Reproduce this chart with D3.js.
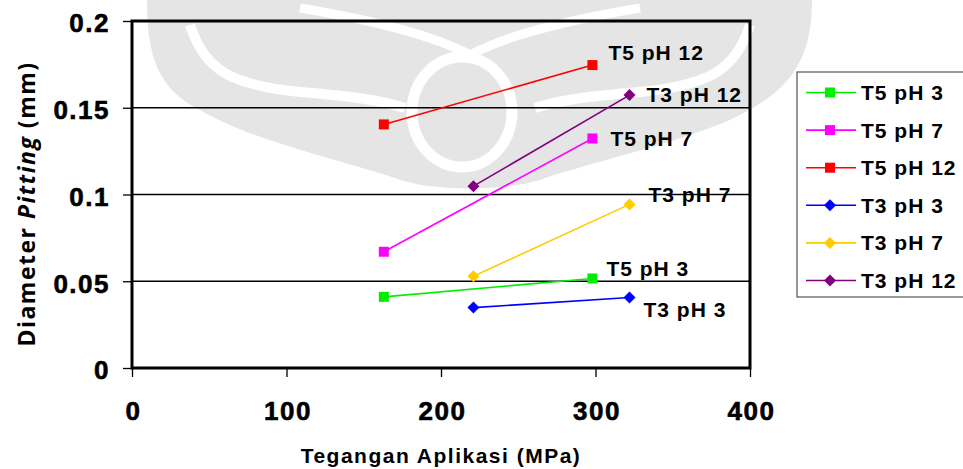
<!DOCTYPE html>
<html>
<head>
<meta charset="utf-8">
<script src="https://cdn.jsdelivr.net/npm/d3@7"></script>
<style>
body{margin:0;background:#fff;}
svg text{font-family:Arial,"Liberation Sans",sans-serif;font-weight:bold;fill:#000;}
</style>
</head>
<body>
<svg id="chart" width="963" height="469"></svg>
<script>
// data
let names = ['T5 pH 3', 'T5 pH 7', 'T5 pH 12', 'T3 pH 3', 'T3 pH 7', 'T3 pH 12'];
let colors = ['#00ee00', '#ff00ff', '#ff0000', '#0000ff', '#ffcc00', '#800080'];
let shapes = ['square', 'square', 'square', 'diamond', 'diamond', 'diamond'];
let xT5 = [163, 298];
let xT3 = [221, 322];
let t5ph3 = [0.041, 0.0516];
let t5ph7 = [0.067, 0.1323];
let t5ph12 = [0.1404, 0.1746];
let t3ph3 = [0.0348, 0.0406];
let t3ph7 = [0.0529, 0.0943];
let t3ph12 = [0.1048, 0.1573];
let yTicks = [0, 0.05, 0.1, 0.15, 0.2];
let xTicks = [0, 100, 200, 300, 400];
// label offset (px) from the last point of each line to the label's baseline start
let labelDx = [14, 18, 16, 14, 19, 17];
let labelDy = [-2, 8, -5, 19, -2, 7];

let series = [
    {x: xT5, y: t5ph3}, {x: xT5, y: t5ph7}, {x: xT5, y: t5ph12},
    {x: xT3, y: t3ph3}, {x: xT3, y: t3ph7}, {x: xT3, y: t3ph12}
];

let svg = d3.select('#chart');
let pLeft = 132, pRight = 750, pTop = 21, pBottom = 368;
let x = d3.scaleLinear().domain([0, 400]).range([pLeft, pRight]);
let y = d3.scaleLinear().domain([0, 0.2]).range([pBottom, pTop]);

// faint watermark behind the chart
let wm = svg.append('g');
wm.append('path')
    .attr('d', 'M147,0 L812,0 C812,60 790,90 740,115 C690,140 600,160 545,178 C510,192 430,192 395,178 C340,160 250,140 200,110 C160,90 147,60 147,0 Z')
    .attr('fill', '#e5e5e5');
let white = (d, w) => wm.append('path').attr('d', d).attr('fill', 'none').attr('stroke', '#fff').attr('stroke-width', w);
white('M190,25 C205,70 230,85 300,92 C350,96 380,100 405,108', 10);
white('M750,25 C735,70 710,85 640,92 C590,96 560,100 535,108', 10);
white('M300,8 Q420,28 470,55 Q520,28 640,8', 9);
wm.append('ellipse').attr('cx', 462).attr('cy', 112).attr('rx', 50).attr('ry', 55)
    .attr('fill', 'none').attr('stroke', '#fff').attr('stroke-width', 11);

// gridlines
svg.append('g').selectAll('line').data(yTicks.slice(1, -1)).join('line')
    .attr('x1', pLeft).attr('x2', pRight)
    .attr('y1', d => y(d)).attr('y2', d => y(d))
    .attr('stroke', '#000').attr('stroke-width', 1.3);

// axes
let yAxis = svg.append('g').attr('transform', `translate(${pLeft},0)`)
    .call(d3.axisLeft(y).tickValues(yTicks).tickSize(9).tickPadding(13).tickFormat(d => +d.toFixed(2) + ''));
let xAxis = svg.append('g').attr('transform', `translate(0,${pBottom})`)
    .call(d3.axisBottom(x).tickValues(xTicks).tickSize(9));
[yAxis, xAxis].forEach(a => {
    a.select('.domain').remove();
    a.selectAll('line').attr('stroke', '#000').attr('stroke-width', 1.3);
    a.selectAll('text').style('font-size', '26px').style('letter-spacing', '1.5px')
        .attr('fill', '#000').attr('stroke', '#000').attr('stroke-width', 0.6)
        .style('font-family', 'Arial, "Liberation Sans", sans-serif');
});
yAxis.selectAll('text').attr('dy', '0.42em');
xAxis.selectAll('text').attr('y', 52).attr('dy', 0).attr('dx', 1);

// frame
svg.append('rect').attr('x', pLeft).attr('y', pTop)
    .attr('width', pRight - pLeft).attr('height', pBottom - pTop)
    .attr('fill', 'none').attr('stroke', '#000').attr('stroke-width', 3);

function marker(g, shape, color, cx, cy) {
    if (shape == 'square') {
        g.append('rect').attr('x', cx - 5).attr('y', cy - 5).attr('width', 10).attr('height', 10).attr('fill', color);
    } else {
        g.append('path').attr('d', `M${cx},${cy - 6}L${cx + 6},${cy}L${cx},${cy + 6}L${cx - 6},${cy}Z`).attr('fill', color);
    }
}

let line = d3.line().x(d => x(d[0])).y(d => y(d[1]));
series.forEach((s, i) => {
    let pts = s.x.map((v, j) => [v, s.y[j]]);
    let g = svg.append('g');
    g.append('path').attr('d', line(pts)).attr('fill', 'none')
        .attr('stroke', colors[i]).attr('stroke-width', 1.6);
    pts.forEach(p => marker(g, shapes[i], colors[i], x(p[0]), y(p[1])));
    let last = pts[pts.length - 1];
    g.append('text').attr('x', x(last[0]) + labelDx[i]).attr('y', y(last[1]) + labelDy[i])
        .style('font-size', '21px').style('letter-spacing', '1px').text(names[i]);
});

// axis titles
svg.append('text').attr('x', 441).attr('y', 463).attr('text-anchor', 'middle')
    .style('font-size', '21px').style('letter-spacing', '1.5px').text('Tegangan Aplikasi (MPa)');
let yt = svg.append('text').attr('transform', 'translate(35,204) rotate(-90)')
    .attr('text-anchor', 'middle').style('font-size', '23px').style('letter-spacing', '1.5px')
    .style('font-family', '"Open Sans", sans-serif');
yt.append('tspan').text('Diameter  ');
yt.append('tspan').style('font-style', 'italic').text('Pitting');
yt.append('tspan').text(' (mm)');

// legend
let lg = svg.append('g');
lg.append('rect').attr('x', 797).attr('y', 72).attr('width', 170).attr('height', 225)
    .attr('fill', '#fff').attr('stroke', '#333').attr('stroke-width', 1);
names.forEach((n, i) => {
    let ly = 92.5 + i * 37.6;
    lg.append('line').attr('x1', 806).attr('x2', 856).attr('y1', ly).attr('y2', ly)
        .attr('stroke', colors[i]).attr('stroke-width', 1.6);
    marker(lg, shapes[i], colors[i], 830, ly);
    lg.append('text').attr('x', 861).attr('y', ly + 7.5)
        .style('font-size', '21px').style('letter-spacing', '1px').text(n);
});
</script>
</body>
</html>
